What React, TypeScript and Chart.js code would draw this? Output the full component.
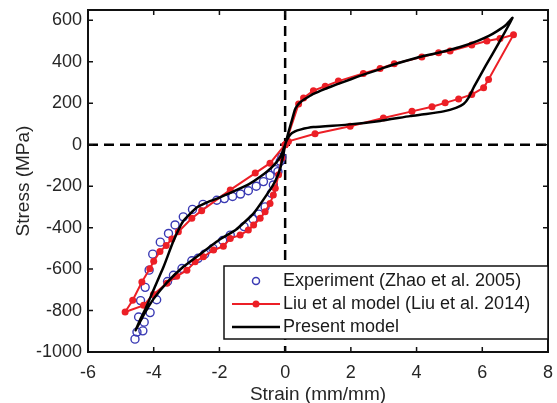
import React, { useEffect, useRef } from "react";
import { Chart, registerables } from "chart.js";

Chart.register(...registerables);

// ---------- data ----------
const xTicks = [-6, -4, -2, 0, 2, 4, 6, 8];
const yTicks = [-1000, -800, -600, -400, -200, 0, 200, 400, 600];

const expStrain = [
  -0.1, -0.22, -0.36, -0.42, -0.61, -0.8, -0.98, -1.25, -1.67, -1.9, -2.2, -2.45, -2.65, -2.84, -3.14, -3.4, -3.58, -3.91, -4.11, -4.29, -4.33, -4.57,
  -4.51, -4.46, -4.4, -4.26, -4.14, -4.03, -3.8, -3.55, -3.35, -3.1, -2.82, -2.5, -2.08, -1.85, -1.6, -1.36, -1.12, -0.88, -0.66, -0.46, -0.3, -0.15,
];
const expStress = [
  -60, -130, -194, -234, -300, -335, -358, -395, -436, -462, -500, -528, -548, -560, -597, -630, -660, -748, -810, -856, -898, -938,
  -904, -831, -752, -688, -605, -528, -470, -428, -387, -348, -312, -288, -268, -260, -250, -238, -222, -200, -178, -148, -120, -80,
];

const liuStrain = [
  0, 0.41, 0.56, 0.86, 1.22, 1.62, 2.38, 2.89, 3.32, 4.16, 4.67, 5.02, 5.68, 6.14, 6.54, 6.95,
  6.19, 6.04, 5.68, 5.28, 4.87, 4.47, 3.86, 2.99, 1.98, 0.91, 0.1, 0,
  -0.1, -0.2, -0.3, -0.36, -0.46, -0.61, -0.76, -0.96, -1.12, -1.37, -1.67, -1.88, -2.18, -2.49, -2.74, -2.99, -3.3, -3.6, -4.01, -4.31, -4.87,
  -4.64, -4.36, -4.12, -4.0, -3.81, -3.62, -3.45, -3.25, -2.84, -2.54, -1.67, -0.91, -0.46, 0,
];
const liuStress = [
  0, 197, 226, 261, 282, 307, 344, 368, 391, 423, 444, 452, 481, 500, 512, 531,
  315, 275, 242, 221, 202, 183, 161, 129, 89, 53, 16, 0,
  -64, -145, -210, -242, -283, -323, -355, -387, -412, -436, -452, -490, -508, -541, -565, -605, -635, -668, -722, -775, -807,
  -750, -662, -598, -562, -515, -486, -455, -420, -355, -318, -218, -137, -89, 0,
];

const modelStrain = [
  0, 0.1, 0.2, 0.3, 0.4, 0.5, 0.7, 0.86, 1.2, 1.57, 2.0, 2.38, 2.9, 3.3, 4.01, 4.5, 4.82, 5.3, 5.84, 6.2, 6.44, 6.7, 6.92,
  6.5, 6.1, 5.75, 5.58, 5.43, 5.2, 4.82, 4.3, 3.8, 2.89, 1.88, 0.86, 0.46, 0.3, 0.15, 0.05, 0,
  -0.05, -0.15, -0.3, -0.46, -0.96, -1.5, -1.98, -2.59, -3.1, -3.6, -4.01, -4.3, -4.55,
  -4.4, -4.26, -4.01, -3.7, -3.4, -3.1, -2.69, -2.38, -2.0, -1.57, -1.1, -0.76, -0.4, -0.15, 0,
];
const modelStress = [
  0, 60, 115, 170, 195, 210, 230, 245, 268, 291, 316, 338, 365, 387, 420, 438, 450, 470, 500, 525, 547, 575, 612,
  490, 380, 280, 226, 196, 178, 161, 148, 138, 115, 97, 85, 73, 64, 48, 22, 0,
  -45, -115, -175, -218, -331, -410, -456, -528, -589, -665, -745, -820, -895,
  -840, -795, -702, -589, -465, -368, -303, -278, -255, -225, -190, -155, -108, -60, 0,
];

const labels = [
  "Experiment (Zhao et al. 2005)",
  "Liu et al model (Liu et al. 2014)",
  "Present model",
];

const BLUE = "#3a3ab4";
const RED = "#ec1f26";
const BLACK = "#000000";
const TEXT = "#262626";
const FONT = "'Liberation Sans', Arial, Helvetica, sans-serif";

const pts = (xs: number[], ys: number[]) => xs.map((x, i) => ({ x, y: ys[i] }));

const decorPlugin = {
  id: "decor",
  beforeDatasetsDraw(chart: any) {
    const { ctx, chartArea: a, scales } = chart;
    const x0 = scales.x.getPixelForValue(0);
    const y0 = scales.y.getPixelForValue(0);
    ctx.save();
    ctx.strokeStyle = BLACK;
    ctx.lineWidth = 2.5;
    ctx.setLineDash([10, 6]);
    ctx.beginPath();
    ctx.moveTo(x0, a.top);
    ctx.lineTo(x0, a.bottom);
    ctx.moveTo(a.left, y0);
    ctx.lineTo(a.right, y0);
    ctx.stroke();
    ctx.restore();
  },
  afterDatasetsDraw(chart: any) {
    const { ctx, chartArea: a, scales } = chart;
    ctx.save();
    // frame
    ctx.strokeStyle = "#111";
    ctx.lineWidth = 2;
    ctx.strokeRect(a.left, a.top, a.right - a.left, a.bottom - a.top);
    // inward ticks
    ctx.lineWidth = 1.5;
    ctx.beginPath();
    for (const v of xTicks) {
      const px = scales.x.getPixelForValue(v);
      ctx.moveTo(px, a.bottom);
      ctx.lineTo(px, a.bottom - 5);
      ctx.moveTo(px, a.top);
      ctx.lineTo(px, a.top + 5);
    }
    for (const v of yTicks) {
      const py = scales.y.getPixelForValue(v);
      ctx.moveTo(a.left, py);
      ctx.lineTo(a.left + 5, py);
      ctx.moveTo(a.right, py);
      ctx.lineTo(a.right - 5, py);
    }
    ctx.stroke();

    // legend box
    const bx = 224, by = 266, bw = a.right - 224, bh = 73;
    ctx.fillStyle = "#fff";
    ctx.fillRect(bx, by, bw, bh);
    ctx.strokeStyle = "#111";
    ctx.lineWidth = 1.5;
    ctx.strokeRect(bx, by, bw, bh);

    const rows = [281, 304, 327];
    const lx0 = 232, lx1 = 280, mx = 256, tx = 283;
    // row 1: open circle
    ctx.strokeStyle = BLUE;
    ctx.lineWidth = 1.5;
    ctx.beginPath();
    ctx.arc(mx, rows[0], 3.5, 0, Math.PI * 2);
    ctx.stroke();
    // row 2: red line + dot
    ctx.strokeStyle = RED;
    ctx.lineWidth = 2;
    ctx.beginPath();
    ctx.moveTo(lx0, rows[1]);
    ctx.lineTo(lx1, rows[1]);
    ctx.stroke();
    ctx.fillStyle = RED;
    ctx.beginPath();
    ctx.arc(mx, rows[1], 3.5, 0, Math.PI * 2);
    ctx.fill();
    // row 3: black line
    ctx.strokeStyle = BLACK;
    ctx.lineWidth = 2.5;
    ctx.beginPath();
    ctx.moveTo(lx0, rows[2]);
    ctx.lineTo(lx1, rows[2]);
    ctx.stroke();

    ctx.fillStyle = "#1a1a1a";
    ctx.font = `18px ${FONT}`;
    ctx.textAlign = "left";
    ctx.textBaseline = "middle";
    labels.forEach((t, i) => ctx.fillText(t, tx, rows[i]));
    ctx.restore();
  },
};

const zeroPad = (s: any) => {
  s.paddingTop = 0;
  s.paddingBottom = 0;
  s.paddingLeft = 0;
  s.paddingRight = 0;
};

export default function App() {
  const ref = useRef<HTMLCanvasElement | null>(null);

  useEffect(() => {
    if (!ref.current) return;
    const chart = new Chart(ref.current, {
      type: "scatter",
      data: {
        datasets: [
          {
            label: labels[2],
            data: pts(modelStrain, modelStress),
            showLine: true,
            borderColor: BLACK,
            borderWidth: 2.5,
            pointRadius: 0,
            tension: 0.15,
            order: 0,
          },
          {
            label: labels[1],
            data: pts(liuStrain, liuStress),
            showLine: true,
            borderColor: RED,
            borderWidth: 2,
            pointRadius: 3.5,
            pointBackgroundColor: RED,
            pointBorderWidth: 0,
            tension: 0,
            order: 1,
          },
          {
            label: labels[0],
            data: pts(expStrain, expStress),
            showLine: false,
            borderColor: BLUE,
            pointRadius: 4,
            pointBorderWidth: 1.4,
            pointBorderColor: BLUE,
            pointBackgroundColor: "rgba(0,0,0,0)",
            order: 2,
          },
        ],
      },
      options: {
        animation: false,
        responsive: false,
        layout: { padding: { top: 10, right: 9, left: 0, bottom: 0 } },
        plugins: {
          legend: { display: false },
          tooltip: { enabled: false },
        },
        scales: {
          x: {
            type: "linear",
            min: -6,
            max: 8,
            afterBuildTicks: (s: any) => {
              s.ticks = xTicks.map((v) => ({ value: v }));
            },
            afterFit: (s: any) => {
              s.height = 51;
              zeroPad(s);
            },
            grid: { display: false, drawTicks: false },
            border: { display: false },
            ticks: {
              color: TEXT,
              font: { family: FONT, size: 18 },
              padding: 10,
              maxRotation: 0,
              autoSkip: false,
              callback: (v: any) => String(v),
            },
            title: {
              display: true,
              text: "Strain (mm/mm)",
              color: TEXT,
              font: { family: FONT, size: 19, lineHeight: 1 },
              padding: { top: 0, bottom: -1 },
            },
          },
          y: {
            type: "linear",
            min: -1000,
            max: 650,
            afterBuildTicks: (s: any) => {
              s.ticks = yTicks.map((v) => ({ value: v }));
            },
            afterFit: (s: any) => {
              s.width = 88;
              zeroPad(s);
            },
            grid: { display: false, drawTicks: false },
            border: { display: false },
            ticks: {
              color: TEXT,
              font: { family: FONT, size: 18 },
              padding: 6,
              autoSkip: false,
              callback: (v: any) => String(v),
            },
            title: {
              display: true,
              text: "Stress (MPa)",
              color: TEXT,
              font: { family: FONT, size: 19, lineHeight: 1 },
              padding: { top: 14, bottom: 0 },
            },
          },
        },
      },
      plugins: [decorPlugin],
    });
    return () => chart.destroy();
  }, []);

  return (
    <div style={{ position: "absolute", left: 0, top: 0, width: 557, height: 403, background: "#fff" }}>
      <canvas ref={ref} width={557} height={403} style={{ display: "block" }} />
    </div>
  );
}
